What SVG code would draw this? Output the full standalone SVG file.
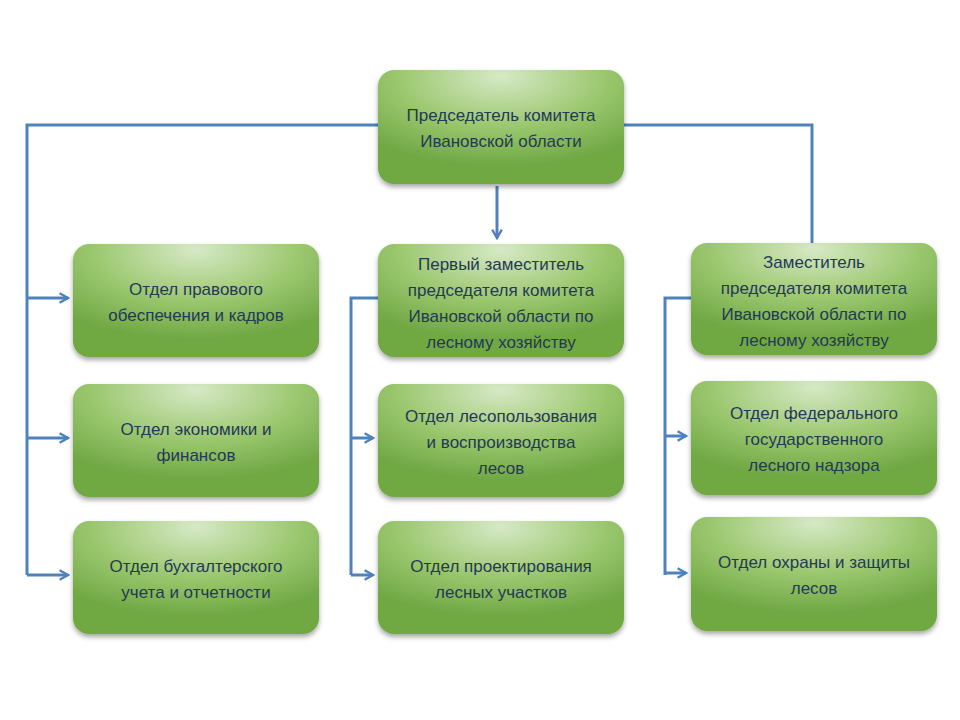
<svg xmlns="http://www.w3.org/2000/svg" width="960" height="720" viewBox="0 0 960 720">
<defs>
<radialGradient id="g" cx="0.5" cy="0.1" r="0.75" fx="0.5" fy="0.05">
<stop offset="0" stop-color="#d7e9c6"/>
<stop offset="0.55" stop-color="#9cc870"/>
<stop offset="1" stop-color="#6fa843"/>
</radialGradient>
<filter id="s" x="-10%" y="-10%" width="120%" height="130%">
<feDropShadow dx="0" dy="3" stdDeviation="2.5" flood-color="#000" flood-opacity="0.35"/>
</filter>
<marker id="a" viewBox="0 0 10 10" refX="8" refY="5" markerWidth="4" markerHeight="4" orient="auto">
<path d="M1,1 L8,5 L1,9" fill="none" stroke="#4f81bd" stroke-width="2"/>
</marker>
</defs>
<style>
.b{fill:url(#g);filter:url(#s)}
.t{font-family:"Liberation Sans",Arial,sans-serif;font-size:17px;fill:#243858;text-anchor:middle}
.c{fill:none;stroke:#4f81bd;stroke-width:3}
</style>
<rect width="960" height="720" fill="#fff"/>
<g id="connectors">
<path class="c" d="M378,125 H27 V575"/>
<path class="c" d="M27,298 H68" marker-end="url(#a)"/>
<path class="c" d="M27,438 H68" marker-end="url(#a)"/>
<path class="c" d="M27,575 H68" marker-end="url(#a)"/>
<path class="c" d="M624,125 H812 V243"/>
<path class="c" d="M497,186 V238" marker-end="url(#a)"/>
<path class="c" d="M378,298 H351 V575"/>
<path class="c" d="M351,438 H373" marker-end="url(#a)"/>
<path class="c" d="M351,575 H373" marker-end="url(#a)"/>
<path class="c" d="M691,298 H665 V575"/>
<path class="c" d="M665,436 H686" marker-end="url(#a)"/>
<path class="c" d="M665,573 H686" marker-end="url(#a)"/>
</g>
<g id="chair"><rect class="b" x="378" y="70" width="246" height="114" rx="16"/>
<text class="t" x="501" y="121">Председатель комитета</text><text class="t" x="501" y="147">Ивановской области</text></g>
<g id="legal"><rect class="b" x="73" y="244" width="246" height="113" rx="16"/>
<text class="t" x="196" y="295">Отдел правового</text><text class="t" x="196" y="321">обеспечения  и кадров</text></g>
<g id="econ"><rect class="b" x="73" y="384" width="246" height="113" rx="16"/>
<text class="t" x="196" y="435">Отдел экономики и</text><text class="t" x="196" y="461">финансов</text></g>
<g id="acc"><rect class="b" x="73" y="521" width="246" height="113" rx="16"/>
<text class="t" x="196" y="572">Отдел бухгалтерского</text><text class="t" x="196" y="598">учета и отчетности</text></g>
<g id="dep1"><rect class="b" x="378" y="244" width="246" height="113" rx="16"/>
<text class="t" x="501" y="270">Первый заместитель</text><text class="t" x="501" y="296">председателя комитета</text><text class="t" x="501" y="322">Ивановской области по</text><text class="t" x="501" y="348">лесному хозяйству</text></g>
<g id="forest-use"><rect class="b" x="378" y="384" width="246" height="113" rx="16"/>
<text class="t" x="501" y="422">Отдел лесопользования</text><text class="t" x="501" y="448">и воспроизводства</text><text class="t" x="501" y="474">лесов</text></g>
<g id="design"><rect class="b" x="378" y="521" width="246" height="113" rx="16"/>
<text class="t" x="501" y="572">Отдел проектирования</text><text class="t" x="501" y="598">лесных участков</text></g>
<g id="dep2"><rect class="b" x="691" y="243" width="246" height="112" rx="16"/>
<text class="t" x="814" y="268">Заместитель</text><text class="t" x="814" y="294">председателя комитета</text><text class="t" x="814" y="320">Ивановской области по</text><text class="t" x="814" y="346">лесному хозяйству</text></g>
<g id="supervision"><rect class="b" x="691" y="381" width="246" height="114" rx="16"/>
<text class="t" x="814" y="419">Отдел федерального</text><text class="t" x="814" y="445">государственного</text><text class="t" x="814" y="471">лесного надзора</text></g>
<g id="protection"><rect class="b" x="691" y="517" width="246" height="114" rx="16"/>
<text class="t" x="814" y="568">Отдел охраны и защиты</text><text class="t" x="814" y="594">лесов</text></g>
</svg>
